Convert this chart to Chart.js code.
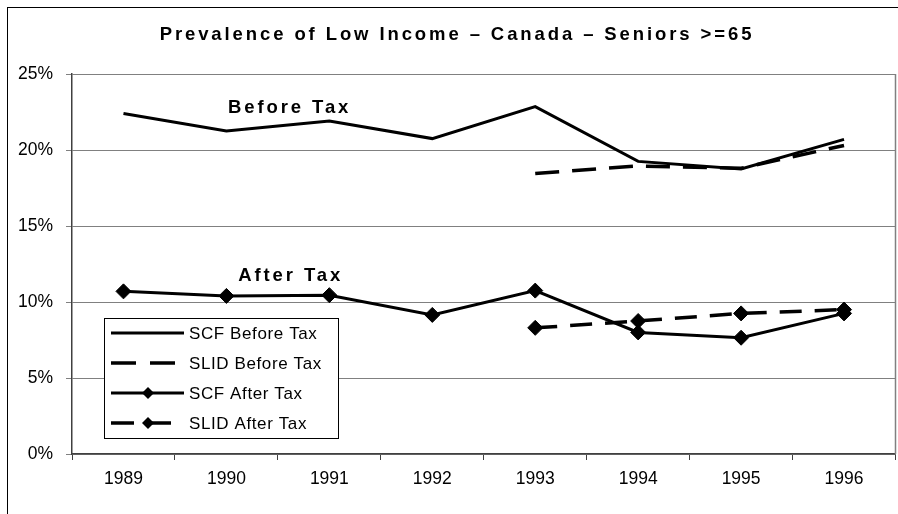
<!DOCTYPE html>
<html><head><meta charset="utf-8">
<script src="https://cdn.jsdelivr.net/npm/chart.js@4"></script>
<style>html,body{margin:0;padding:0;background:#fff;overflow:hidden}#wrap{width:898px;height:514px;position:relative;overflow:hidden}canvas{display:block}</style>
</head><body><div id="wrap"><canvas id="c" width="904" height="514"></canvas></div>
<script>
const years = ['1989','1990','1991','1992','1993','1994','1995','1996'];
const scfBefore = [22.4, 21.25, 21.9, 20.75, 22.85, 19.25, 18.75, 20.7];
const slidBefore = [null, null, null, null, 18.45, 18.95, 18.8, 20.3];
const scfAfter = [10.7, 10.4, 10.45, 9.15, 10.75, 8.0, 7.65, 9.25];
const slidAfter = [null, null, null, null, 8.3, 8.75, 9.25, 9.5];
const yTickValues = [0, 5, 10, 15, 20, 25];
const titleText = 'Prevalence of Low Income \u2013 Canada \u2013 Seniors >=65';
const legendLabels = ['SCF Before Tax', 'SLID Before Tax', 'SCF After Tax', 'SLID After Tax'];
const annotations = [{text: 'Before Tax', x: 1.6, y: 22.8}, {text: 'After Tax', x: 1.61, y: 11.7}];

const FONT = "'Liberation Sans', Arial, sans-serif";

const decor = {
  id: 'decor',
  beforeDraw(chart) { chart.ctx.letterSpacing = '0px'; },
  afterDraw(chart) {
    const ctx = chart.ctx;
    const xs = chart.scales.x, ys = chart.scales.y;
    const ca = chart.chartArea;
    ctx.save();
    // plot area right border
    ctx.strokeStyle = '#808080'; ctx.lineWidth = 1.5;
    ctx.beginPath(); ctx.moveTo(Math.round(ca.right) - 0.5, ca.top); ctx.lineTo(Math.round(ca.right) - 0.5, ca.bottom); ctx.stroke();
    // frame
    ctx.strokeStyle = '#000'; ctx.lineWidth = 1;
    ctx.strokeRect(7.5, 7.5, 1000, 1000);
    // title
    ctx.fillStyle = '#000';
    ctx.font = 'bold 18.5px ' + FONT;
    ctx.letterSpacing = '2.9px';
    ctx.textAlign = 'center'; ctx.textBaseline = 'middle';
    ctx.fillText(titleText, 457, 34.5);
    // annotations
    annotations.forEach(a => {
      ctx.fillText(a.text, xs.getPixelForValue(a.x) + 1.5, ys.getPixelForValue(a.y));
    });
    // legend
    const bx = 104.5, by = 318.5, bw = 234, bh = 120;
    ctx.fillStyle = '#fff'; ctx.fillRect(bx, by, bw, bh);
    ctx.strokeStyle = '#000'; ctx.lineWidth = 1; ctx.strokeRect(bx, by, bw, bh);
    const rows = [333, 363, 393, 423];
    const ds = chart.data.datasets;
    rows.forEach((ry, i) => {
      const d = ds[i];
      ctx.save();
      ctx.strokeStyle = '#000';
      ctx.lineWidth = d.borderWidth;
      if (i === 1) ctx.setLineDash([25, 14]);
      if (i === 3) ctx.setLineDash([23, 14]);
      ctx.beginPath(); ctx.moveTo(111, ry); ctx.lineTo(184, ry); ctx.stroke();
      ctx.setLineDash([]);
      if (i >= 2) {
        const cx = 148, r = 6;
        ctx.fillStyle = '#000';
        ctx.beginPath(); ctx.moveTo(cx - r, ry); ctx.lineTo(cx, ry - r); ctx.lineTo(cx + r, ry); ctx.lineTo(cx, ry + r); ctx.closePath(); ctx.fill();
      }
      ctx.restore();
      ctx.fillStyle = '#000';
      ctx.font = '17px ' + FONT;
      ctx.letterSpacing = '0.6px';
      ctx.textAlign = 'left'; ctx.textBaseline = 'middle';
      ctx.fillText(legendLabels[i], 189, ry + 1);
    });
    ctx.restore();
  }
};

new Chart(document.getElementById('c'), {
  type: 'line',
  data: {
    labels: years,
    datasets: [
      {label: legendLabels[0], data: scfBefore, borderColor: '#000', borderWidth: 3, pointRadius: 0, tension: 0},
      {label: legendLabels[1], data: slidBefore, borderColor: '#000', borderWidth: 3.5, borderDash: [24, 13], pointRadius: 0, tension: 0},
      {label: legendLabels[2], data: scfAfter, borderColor: '#000', borderWidth: 3, pointStyle: 'rectRot', pointRadius: 7.5, pointBackgroundColor: '#000', pointBorderColor: '#000', pointBorderWidth: 1, tension: 0},
      {label: legendLabels[3], data: slidAfter, borderColor: '#000', borderWidth: 3.5, borderDash: [22, 13], pointStyle: 'rectRot', pointRadius: 7.5, pointBackgroundColor: '#000', pointBorderColor: '#000', pointBorderWidth: 1, tension: 0}
    ]
  },
  options: {
    responsive: false, animation: false, devicePixelRatio: 1,
    layout: {padding: {top: 74, right: 0, left: 0, bottom: 0}},
    plugins: {legend: {display: false}, tooltip: {enabled: false}, title: {display: false}},
    scales: {
      x: {
        type: 'category', offset: true,
        grid: {offset: true, drawOnChartArea: false, drawTicks: true, tickLength: 6, color: '#404040', lineWidth: 1},
        border: {color: '#404040', width: 1.5},
        ticks: {color: '#000', font: {family: FONT, size: 17.5}, padding: 9, maxRotation: 0},
        afterFit(s) { s.height = 60; }
      },
      y: {
        min: 0, max: 25,
        afterBuildTicks(s) { s.ticks = yTickValues.map(v => ({value: v})); },
        grid: {color: '#808080', lineWidth: 1, tickLength: 6, drawTicks: true},
        border: {color: '#404040', width: 1.5},
        ticks: {color: '#000', font: {family: FONT, size: 17.5}, padding: 13, callback: v => v + '%'},
        afterFit(s) { s.width = 72; }
      }
    }
  },
  plugins: [decor]
});
</script></body></html>
